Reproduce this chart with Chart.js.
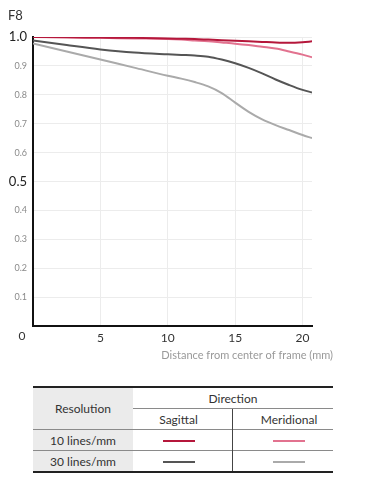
<!DOCTYPE html>
<html>
<head>
<meta charset="utf-8">
<script src="https://cdn.jsdelivr.net/npm/chart.js@4"></script>
<style>
  body { margin: 0; background: #fff; font-family: Lato, sans-serif; }
  #wrap { position: relative; width: 368px; height: 370px; }
  table.legend {
    position: absolute; left: 33px; top: 386px; width: 300px;
    border-collapse: collapse; font-size: 12px; color: #333;
    border-top: 2px solid #222; border-bottom: 2px solid #222;
  }
  table.legend td { text-align: center; padding: 0; height: 20px; }
  td.gray { background: #ebebeb; width: 100px; }
  td.col2 { width: 91px; padding-right: 8px !important; }
  td.col3 { padding-left: 12px !important; }
  tr.r2 td, tr.r3 td { border-top: 1.5px solid #8a8a8a; }
  tr.r1 td.dir { border-bottom: 1.5px solid #8a8a8a; }
  td.vline { border-right: 1.5px solid #444; }
  .swatch { display: inline-block; width: 32px; height: 2px; vertical-align: middle; }
</style>
</head>
<body>
<div id="wrap"><canvas id="mtf"></canvas></div>
<table class="legend">
  <tr class="r1"><td class="gray" rowspan="2">Resolution</td><td class="dir" colspan="2">Direction</td></tr>
  <tr><td class="col2 vline">Sagittal</td><td class="col3">Meridional</td></tr>
  <tr class="r2"><td class="gray">10 lines/mm</td><td class="col2 vline"><span class="swatch" style="background:#b5173b"></span></td><td class="col3"><span class="swatch" style="background:#e2728f"></span></td></tr>
  <tr class="r3"><td class="gray">30 lines/mm</td><td class="col2 vline"><span class="swatch" style="background:#555555"></span></td><td class="col3"><span class="swatch" style="background:#aaaaaa"></span></td></tr>
</table>
<script>
// distance from center (mm)
const distance = [0, 2.5, 5, 7.5, 10, 11, 12, 13, 14, 15, 16, 17, 18, 19, 20, 20.7];
// MTF values
const sagittal10 = [1.0, 0.999, 0.998, 0.997, 0.995, 0.994, 0.993, 0.991, 0.989, 0.987, 0.985, 0.983, 0.981, 0.980, 0.982, 0.985];
const meridional10 = [1.0, 0.999, 0.997, 0.995, 0.993, 0.991, 0.988, 0.985, 0.981, 0.977, 0.972, 0.966, 0.960, 0.950, 0.939, 0.930];
const sagittal30 = [0.988, 0.972, 0.957, 0.946, 0.940, 0.938, 0.936, 0.932, 0.922, 0.909, 0.893, 0.874, 0.853, 0.834, 0.817, 0.808];
const meridional30 = [0.978, 0.950, 0.922, 0.894, 0.866, 0.856, 0.844, 0.829, 0.806, 0.773, 0.741, 0.715, 0.695, 0.678, 0.661, 0.650];
const xTicks = [5, 10, 15, 20];
const bigYTicks = [1.0, 0.5];

function pts(vals) {
  return vals.map((v, i) => ({ x: distance[i], y: v }));
}
function serie(label, vals, color) {
  return {
    label: label, data: pts(vals), borderColor: color, borderWidth: 2,
    pointRadius: 0, cubicInterpolationMode: 'monotone', fill: false
  };
}
function isBig(c) {
  return !!(c && c.tick) && bigYTicks.some(b => Math.abs(b - c.tick.value) < 1e-6);
}

// texts outside the normal axis layout
const extraText = {
  id: 'extraText',
  afterDraw(chart) {
    const c = chart.ctx, xs = chart.scales.x;
    c.save();
    c.fillStyle = '#333';
    c.font = '13px Lato';
    c.textAlign = 'left';
    c.textBaseline = 'middle';
    c.fillText('F8', 8, 16);
    c.font = '12px Lato';
    c.textAlign = 'center';
    c.fillText('0', xs.left - 11, 336);
    c.fillStyle = '#999';
    c.font = '11px Lato';
    c.textAlign = 'right';
    c.fillText('Distance from center of frame (mm)', 333, 355);
    c.restore();
  }
};

const ctx = document.getElementById('mtf').getContext('2d');
new Chart(ctx, {
  type: 'line',
  data: {
    datasets: [
      serie('Sagittal 10 lines/mm', sagittal10, '#b5173b'),
      serie('Meridional 10 lines/mm', meridional10, '#e2728f'),
      serie('Sagittal 30 lines/mm', sagittal30, '#555555'),
      serie('Meridional 30 lines/mm', meridional30, '#aaaaaa')
    ]
  },
  options: {
    responsive: true,
    maintainAspectRatio: false,
    animation: false,
    layout: { padding: { left: 0, right: 56, top: 37, bottom: 0 } },
    plugins: { legend: { display: false }, tooltip: { enabled: false } },
    scales: {
      x: {
        type: 'linear', min: 0, max: 20.7,
        afterBuildTicks: (axis) => { axis.ticks = xTicks.map(v => ({ value: v })); },
        afterFit: (scale) => { scale.height = 44; },
        grid: { color: '#ececec', drawTicks: false },
        border: { color: '#111', width: 2 },
        ticks: { color: '#333', font: { family: 'Lato', size: 12 }, padding: 5, maxRotation: 0 }
      },
      y: {
        min: 0, max: 1,
        afterFit: (scale) => { scale.width = 33; },
        grid: { color: '#ececec', drawTicks: false },
        border: { color: '#111', width: 2 },
        ticks: {
          stepSize: 0.1, padding: 6,
          callback: (v) => v === 0 ? '' : v.toFixed(1),
          color: (c) => isBig(c) ? '#222' : '#8a8a8a',
          font: (c) => ({ family: 'Lato', size: isBig(c) ? 13 : 9 })
        }
      }
    }
  },
  plugins: [extraText]
});
</script>
</body>
</html>
